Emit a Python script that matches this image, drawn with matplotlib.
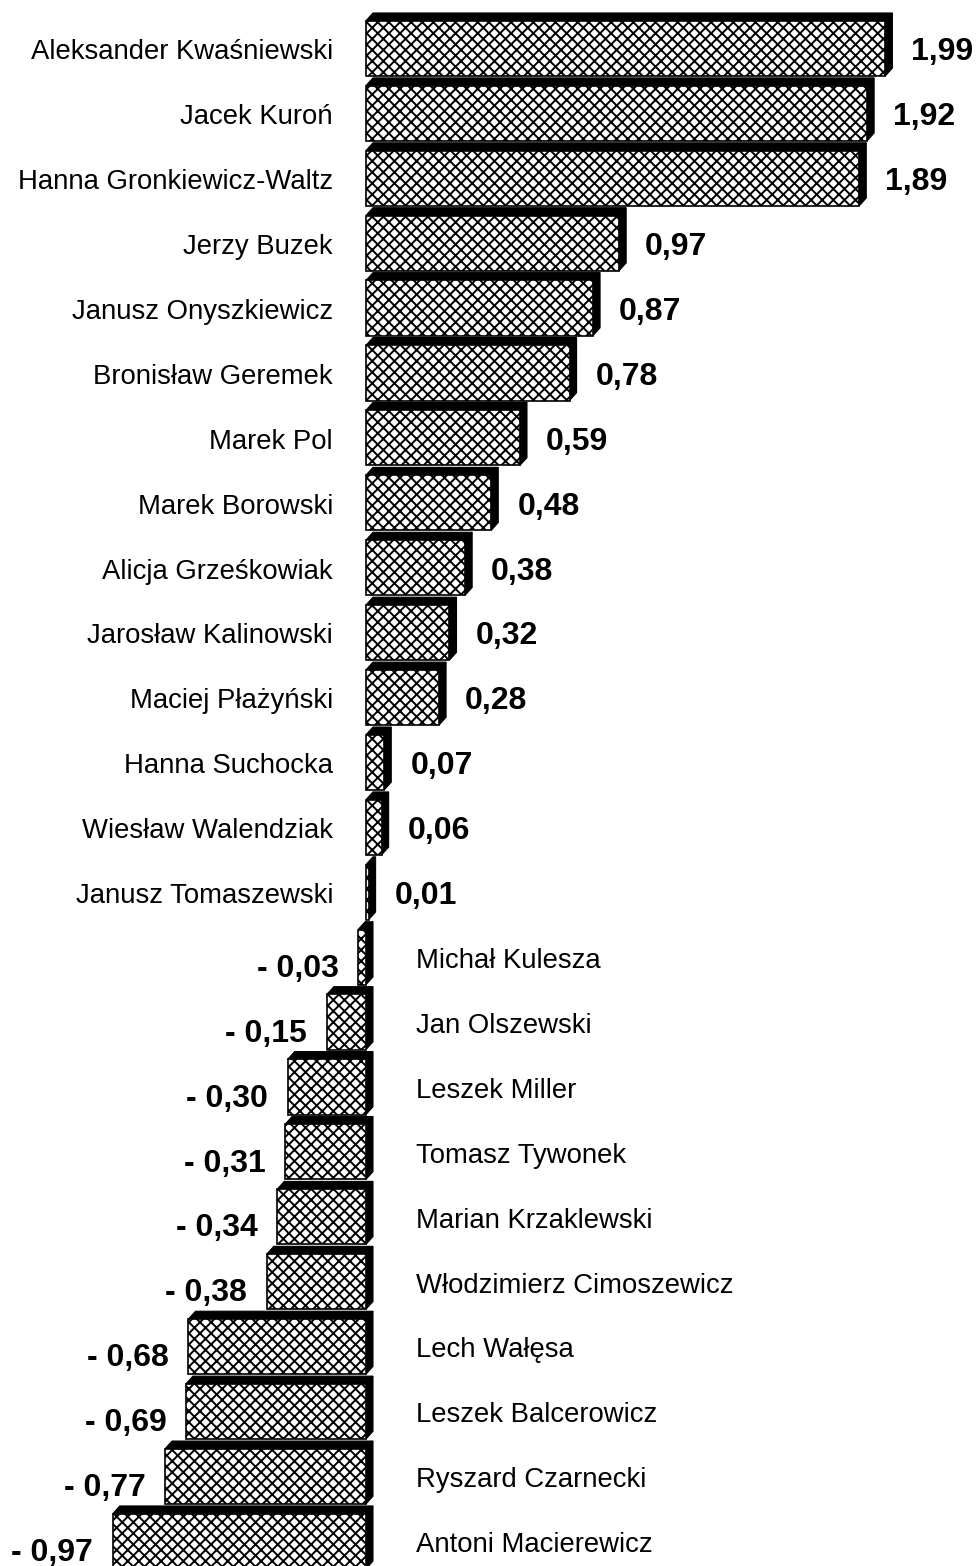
import matplotlib
matplotlib.use('Agg')
import matplotlib.pyplot as plt
from matplotlib.patches import Polygon

plt.rcParams['font.family'] = ['Liberation Sans', 'DejaVu Sans']
plt.rcParams['hatch.linewidth'] = 1.4

# dane
names = ['Aleksander Kwaśniewski', 'Jacek Kuroń', 'Hanna Gronkiewicz-Waltz',
         'Jerzy Buzek', 'Janusz Onyszkiewicz', 'Bronisław Geremek', 'Marek Pol',
         'Marek Borowski', 'Alicja Grześkowiak', 'Jarosław Kalinowski',
         'Maciej Płażyński', 'Hanna Suchocka', 'Wiesław Walendziak',
         'Janusz Tomaszewski', 'Michał Kulesza', 'Jan Olszewski', 'Leszek Miller',
         'Tomasz Tywonek', 'Marian Krzaklewski', 'Włodzimierz Cimoszewicz',
         'Lech Wałęsa', 'Leszek Balcerowicz', 'Ryszard Czarnecki',
         'Antoni Macierewicz']
values = [1.99, 1.92, 1.89, 0.97, 0.87, 0.78, 0.59, 0.48, 0.38, 0.32, 0.28,
          0.07, 0.06, 0.01, -0.03, -0.15, -0.30, -0.31, -0.34, -0.38, -0.68,
          -0.69, -0.77, -0.97]

fig = plt.figure(figsize=(9.78, 15.66), dpi=100)
ax = fig.add_axes([0, 0, 1, 1])
ax.set_xlim(-1.402, 2.345)
ax.set_ylim(23.38, -0.745)
ax.axis('off')

h = 0.85      # wysokosc slupka
dx = 0.027    # glebokosc 3D w poziomie
dy = 0.12     # glebokosc 3D w pionie

for i, (name, v) in enumerate(zip(names, values)):
    top = i - h / 2
    bot = i + h / 2
    left, right = min(0, v), max(0, v)
    # gorna i boczna sciana (czarne)
    ax.add_patch(Polygon([(left, top), (right, top), (right + dx, top - dy),
                          (left + dx, top - dy)], closed=True,
                         facecolor='black', edgecolor='black', lw=0.8, zorder=1))
    ax.add_patch(Polygon([(right, top), (right + dx, top - dy),
                          (right + dx, bot - dy), (right, bot)], closed=True,
                         facecolor='black', edgecolor='black', lw=0.8, zorder=1))
    ax.barh(i, v, height=h, left=0, color='white', edgecolor='black',
            hatch='xxx', linewidth=1.2, zorder=2)

    txt = '{:.2f}'.format(abs(v)).replace('.', ',')
    if v >= 0:
        ax.text(-0.126, i + 0.06, name, ha='right', va='center', fontsize=19.8)
        ax.text(v + 0.1, i + 0.06, txt, ha='left', va='center',
                fontsize=23, fontweight='bold')
    else:
        ax.text(0.19, i + 0.06, name, ha='left', va='center', fontsize=19.8)
        ax.text(v - 0.075, i + 0.18, '- ' + txt, ha='right', va='center',
                fontsize=23, fontweight='bold')

fig.savefig('out.png', dpi=100)
